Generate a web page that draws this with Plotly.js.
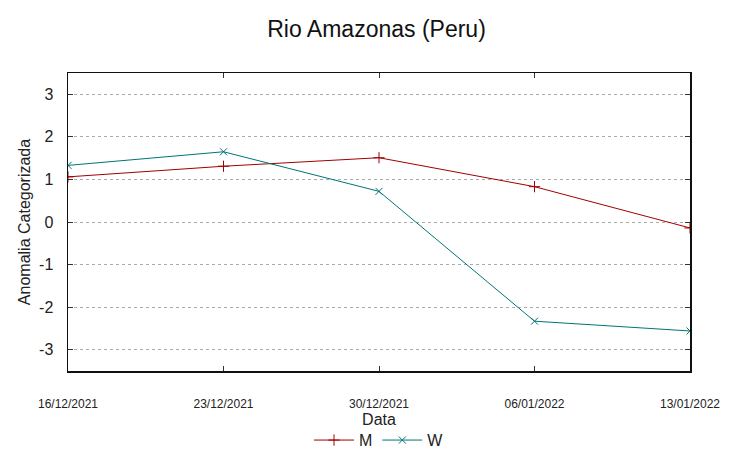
<!DOCTYPE html>
<html>
<head>
<meta charset="utf-8">
<script src="https://cdn.plot.ly/plotly-3.0.1.min.js"></script>
<style>html,body{margin:0;padding:0;background:#fff;}#chart{width:753px;height:459px;}</style>
</head>
<body>
<div id="chart"></div>
<script>
const dates = ['2021-12-16', '2021-12-23', '2021-12-30', '2022-01-06', '2022-01-13'];
const seriesM = [1.06, 1.31, 1.51, 0.83, -0.14];
const seriesW = [1.33, 1.65, 0.72, -2.33, -2.56];
const yTicks = [-3, -2, -1, 0, 1, 2, 3];
const yTickText = yTicks.map(v => String(v));

const font = 'Liberation Sans, Arial, sans-serif';
const traces = [
  {x: dates, y: seriesM, name: 'M', type: 'scatter', mode: 'lines+markers',
   line: {color: '#a00000', width: 1},
   marker: {symbol: 'cross-thin-open', size: 8, line: {color: '#a00000', width: 1}}},
  {x: dates, y: seriesW, name: 'W', type: 'scatter', mode: 'lines+markers',
   line: {color: '#007575', width: 1},
   marker: {symbol: 'x-thin-open', size: 7, line: {color: '#007575', width: 1}}}
];
const layout = {
  width: 753, height: 459,
  margin: {l: 68, r: 63, t: 73, b: 88, autoexpand: false},
  paper_bgcolor: '#fff', plot_bgcolor: '#fff',
  font: {family: font, color: '#222'},
  title: {text: 'Rio Amazonas (Peru)', font: {size: 23, color: '#111'}, x: 0.5, xanchor: 'center', y: 0.937, yanchor: 'middle'},
  xaxis: {
    type: 'date', range: [dates[0], dates[dates.length - 1]],
    tickvals: dates, tickformat: '%d/%m/%Y',
    ticks: 'inside', ticklen: 5, tickcolor: '#333',
    showgrid: false, zeroline: false,
    showline: true, linecolor: '#111', linewidth: 1.5, mirror: 'ticks',
    ticklabelstandoff: 21,
    tickfont: {size: 12, color: '#222'},
    title: {text: 'Data', font: {size: 16, color: '#222'}, standoff: 4}
  },
  yaxis: {
    range: [-3.5, 3.5], tickvals: yTicks, ticktext: yTickText,
    ticks: 'inside', ticklen: 5, tickcolor: '#333',
    showgrid: true, gridcolor: '#aaa', griddash: 'dot', gridwidth: 1,
    zeroline: false,
    showline: true, linecolor: '#111', linewidth: 1.5, mirror: 'ticks',
    ticklabelstandoff: 10,
    tickfont: {size: 16, color: '#222'},
    title: {text: 'Anomalia Categorizada', font: {size: 16, color: '#222'}, standoff: 4}
  },
  legend: {orientation: 'h', x: 0.5, xanchor: 'center', y: -0.175, yanchor: 'top',
           font: {size: 16, color: '#222'}, itemwidth: 40, bgcolor: 'rgba(0,0,0,0)'},
  showlegend: true
};
Plotly.newPlot('chart', traces, layout, {displayModeBar: false, staticPlot: true});
</script>
</body>
</html>
